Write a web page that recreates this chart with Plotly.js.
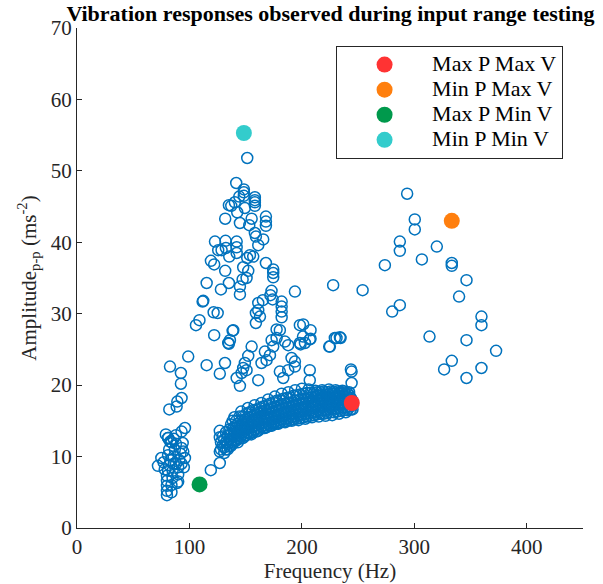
<!DOCTYPE html>
<html>
<head>
<meta charset="utf-8">
<script src="https://cdn.plot.ly/plotly-3.0.1.min.js"></script>
<style>html,body{margin:0;padding:0;background:#fff;}#chart{width:603px;height:584px;}</style>
</head>
<body>
<div id="chart"></div>
<script>
// Low-frequency cluster
const lowFreq = [80,80,80,80,80,81,82,83,81,82,84,81,83,79,84,84,85,85,86,86,87,88,90,90,90,91,92,93,94,94.5,89,75,72,77,78,88,93,95,96,86,88,96,93,81,83,127,127,127,127,119];
const lowAmp  = [4.6,5.2,5.9,6.6,7.3,8.0,8.8,9.5,10.2,11.0,12.0,12.6,12.1,13.1,5.0,6.0,7.0,8.0,9.0,10.0,11.0,11.8,6.5,7.5,8.5,9.5,10.4,11.2,11.9,10.7,6.3,9.8,8.7,9.2,8.2,9.0,9.0,8.5,9.8,12.5,13.0,14.0,13.5,12.6,12.1,13.6,12.7,10.7,9.1,8.1];

// Dense main band (first pass)
const bandFreq = [128,128,131,131,131,134,134,134,137,137,137,137,140,140,140,140,143,143,143,143,146,146,146,146,149,149,149,149,152,152,152,152,155,155,155,155,158,158,158,158,161,161,161,161,164,164,164,164,167,167,167,167,170,170,170,170,173,173,173,173,176,176,176,176,179,179,179,179,182,182,182,182,185,185,185,185,188,188,188,188,191,191,191,191,194,194,194,194,197,197,197,197,200,200,200,200,203,203,203,203,206,206,206,206,209,209,209,209,212,212,212,212,215,215,215,215,218,218,218,218,221,221,221,221,224,224,224,224,227,227,227,227,230,230,230,230,233,233,233,233,236,236,236,236,239,239,239,239,242,242,242,242,245,245,245];
const bandAmp  = [11.0,12.0,11.3,12.4,10.5,11.8,12.9,11.0,12.0,13.2,14.5,11.5,12.3,13.4,14.2,15.5,12.6,13.6,14.6,12.0,12.9,13.9,15.0,16.3,13.2,14.1,15.2,12.8,13.4,14.3,15.5,16.8,13.6,14.5,15.6,13.1,13.8,14.8,15.9,17.2,14.0,15.0,16.1,13.6,14.2,15.2,16.3,17.5,14.4,15.3,16.4,14.0,14.6,15.5,16.6,18.0,14.7,15.6,16.8,14.3,14.9,15.8,16.9,18.4,15.0,16.0,17.1,14.6,15.2,16.1,17.2,18.8,15.3,16.3,17.4,14.8,15.4,16.4,17.5,19.0,15.5,16.5,17.6,15.0,15.7,16.7,17.8,19.3,15.8,16.8,17.9,15.1,15.9,16.9,18.0,19.5,16.0,17.0,18.1,15.3,16.1,17.1,18.2,19.4,16.2,17.2,18.3,15.5,16.3,17.3,18.4,19.2,16.4,17.4,18.5,15.6,16.5,17.5,18.6,19.3,16.5,17.5,18.6,15.7,16.6,17.6,18.7,19.4,16.7,17.7,18.8,15.8,16.7,17.7,18.8,19.3,16.8,17.8,18.9,16.0,16.9,17.9,18.9,19.2,16.9,17.9,18.8,16.2,17.0,18.0,18.6,19.0,17.1,17.8,16.6];

// Dense main band (second pass, in between)
const band2Freq = [129.5,129.5,132.5,132.5,132.5,135.5,135.5,135.5,
  138.5,138.5,138.5,138.5,141.5,141.5,141.5,141.5,144.5,144.5,144.5,144.5,147.5,147.5,147.5,147.5,
  150.5,150.5,150.5,150.5,153.5,153.5,153.5,153.5,156.5,156.5,156.5,156.5,159.5,159.5,159.5,159.5,
  162.5,162.5,162.5,162.5,165.5,165.5,165.5,165.5,168.5,168.5,168.5,168.5,171.5,171.5,171.5,171.5,
  174.5,174.5,174.5,174.5,177.5,177.5,177.5,177.5,180.5,180.5,180.5,180.5,183.5,183.5,183.5,183.5,
  186.5,186.5,186.5,186.5,189.5,189.5,189.5,189.5,192.5,192.5,192.5,192.5,195.5,195.5,195.5,195.5,
  198.5,198.5,198.5,198.5,201.5,201.5,201.5,201.5,204.5,204.5,204.5,204.5,207.5,207.5,207.5,207.5,
  210.5,210.5,210.5,210.5,213.5,213.5,213.5,213.5,216.5,216.5,216.5,216.5,219.5,219.5,219.5,219.5,
  222.5,222.5,222.5,222.5,225.5,225.5,225.5,225.5,228.5,228.5,228.5,228.5,231.5,231.5,231.5,231.5,
  234.5,234.5,234.5,234.5,237.5,237.5,237.5,237.5,240.5,240.5,240.5,240.5,243.5,243.5,243.5];
const band2Amp = [11.5,12.8,11.0,12.0,13.4,11.4,12.4,13.8,
  11.8,12.8,13.9,15.0,12.2,13.0,14.0,15.0,12.5,13.3,14.3,15.6,12.6,13.5,14.5,15.6,
  13.0,13.8,14.8,16.0,13.2,14.0,15.0,16.2,13.4,14.2,15.2,16.5,13.5,14.4,15.4,16.6,
  13.8,14.6,15.6,16.8,14.0,14.8,15.8,17.0,14.1,15.0,16.0,17.2,14.3,15.1,16.1,17.4,
  14.5,15.3,16.3,17.6,14.6,15.5,16.5,17.8,14.8,15.6,16.6,17.9,14.9,15.8,16.8,18.1,
  15.0,15.9,16.9,18.2,15.1,16.0,17.0,18.3,15.2,16.1,17.1,18.5,15.3,16.2,17.3,18.6,
  15.4,16.4,17.4,18.7,15.5,16.5,17.5,18.8,15.6,16.6,17.6,18.9,15.7,16.7,17.7,18.9,
  15.8,16.8,17.8,18.9,15.9,16.9,17.9,19.0,16.0,17.0,18.0,19.0,16.0,17.0,18.1,19.1,
  16.1,17.1,18.1,19.0,16.2,17.2,18.2,19.1,16.2,17.2,18.3,19.0,16.3,17.3,18.3,19.1,
  16.4,17.4,18.4,19.0,16.5,17.4,18.4,19.1,16.5,17.5,18.3,18.9,16.6,17.5,18.2];

// Scatter between band and upper arm
const midFreq = [134.5,155.3,152.3,149.3,147.8,146.4,142,144.9,161.2,164.1,168.6,171.6,167.1,174.5,177.5,173.1,184.9,187.8,190.8,193.8,193.8,187.8,180.4,183.4,201,198.2,207,224.9,233.8,230.8,244.2,244.2,207,207,131.6,138.4,135.1,150.8,115.3,127,98.9,82.7,92.4,92.4,93,89.2,88.6,82.1];
const midAmp  = [25.9,25.4,24.1,23.1,22.4,21.7,21.0,19.9,20.7,23.1,23.5,24.2,24.7,25.4,26.6,26.3,26.1,25.6,23.8,23.3,22.6,22.1,21.9,21.0,26.8,25.9,26.4,25.4,26.7,26.6,21.9,20.3,20.7,22.1,23.1,27.6,25.8,22.1,22.8,21.6,24.0,22.6,21.7,20.2,18.2,17.7,17.0,16.6];

// Upper arm
const armFreq = [151.4,141.6,148.4,148.4,148.4,158.2,158.2,158.2,158.2,144.3,140.4,135.1,137.2,149.3,142.5,131.8,144.9,155.3,153.2,168,168,168,158.2,165.6,159.1,122.7,132.1,142,161.2,125.6,128.6,132.4,142,135.4,142,153.8,156.7,151.4,119.1,122,168,147.8,174.5,174.5,174.5,131.8,152.3,150.8,147.3,135.1,115.3,128,144.9,144.9,112.3,193.8,173,172,174,182,182,182,182,161.2,165.3,159.1,161.2,162.7,159.1,121.5,125.1,108.9,105.8,139,122,177.5,136,198.2,227.8,254,201.2,207.7,207.7,229.3,234.4,224.3,198.8,202.7,180.4,243.6,111.7];
const armAmp  = [51.8,48.3,47.4,47.0,46.5,46.3,45.9,45.6,45.1,46.4,45.6,45.2,45.1,44.8,44.2,43.3,42.7,43.3,42.4,43.6,42.9,42.3,41.3,40.4,40.8,40.1,40.2,40.1,39.6,38.9,38.9,39.2,39.3,38.0,38.5,38.2,38.0,37.8,37.4,36.9,37.1,36.5,36.2,35.7,35.1,36.0,36.0,35.0,34.8,34.3,34.3,33.4,33.8,32.7,31.8,33.1,33.2,32.6,32.0,31.7,31.0,30.3,29.5,31.5,31.9,30.1,30.5,29.6,28.7,30.2,30.1,29.1,28.4,27.7,27.0,27.8,26.3,28.4,34.0,33.3,28.5,27.7,26.5,26.6,26.6,25.4,25.7,25.9,27.7,22.2,31.7];

// High-frequency scatter
const highFreq = [293.6,300.4,300.4,287.1,287.1,320,306.7,273.8,333.3,333.3,346.4,339.8,287.1,280.3,359.7,359.7,313.5,346.4,372.7,333.3,326.5,359.7,346.4];
const highAmp  = [46.8,43.2,41.8,40.1,38.8,39.4,37.6,36.8,37.1,36.7,34.7,32.4,31.2,30.3,29.6,28.4,26.8,26.3,24.8,23.4,22.2,22.4,21.0];

// Highlighted operating points
const specialNames = ['Max P Max V','Min P Max V','Max P Min V','Min P Min V'];
const specialFreq  = [244.4, 333.3, 109, 148.4];
const specialAmp   = [17.5, 43.0, 6.1, 55.3];
const specialColors = ['#ff3333','#ff7f0e','#00994c','#33cccc'];

const blueFreq = [].concat(lowFreq, bandFreq, band2Freq, midFreq, armFreq, highFreq);
const blueAmp  = [].concat(lowAmp, bandAmp, band2Amp, midAmp, armAmp, highAmp);

const serif = 'Liberation Serif, Times New Roman, serif';
const traces = [{
  type: 'scatter', mode: 'markers', x: blueFreq, y: blueAmp, showlegend: false,
  marker: {symbol: 'circle-open', size: 11, color: '#0072BD', line: {width: 1.5, color: '#0072BD'}},
  hoverinfo: 'skip'
}];
for (let i = 0; i < specialNames.length; i++) {
  traces.push({
    type: 'scatter', mode: 'markers',
    name: '<span style="font-size:22px">' + specialNames[i] + '</span>',
    x: [specialFreq[i]], y: [specialAmp[i]],
    marker: {symbol: 'circle', size: 16, color: specialColors[i]}
  });
}
const axisCommon = {
  showline: true, linecolor: '#262626', linewidth: 1, mirror: false,
  ticks: 'inside', ticklen: 5, tickcolor: '#262626', showgrid: false, zeroline: false,
  tickfont: {family: serif, size: 21, color: '#262626'}
};
const layout = {
  width: 603, height: 584,
  margin: {l: 77, r: 20, t: 28, b: 56},
  paper_bgcolor: '#fff', plot_bgcolor: '#fff',
  title: {text: '<b>Vibration responses observed during input range testing</b>', font: {family: serif, size: 22, color: '#000'}, x: 0.548, xanchor: 'center', y: 0.977, yanchor: 'middle'},
  xaxis: Object.assign({}, axisCommon, {range: [0, 450], tickvals: [0,100,200,300,400], title: {text: 'Frequency (Hz)', font: {family: serif, size: 21, color: '#262626'}, standoff: 2}}),
  yaxis: Object.assign({}, axisCommon, {range: [0, 70], tickvals: [0,10,20,30,40,50,60,70], title: {text: 'Amplitude<sub>p-p</sub> (ms<sup>-2</sup>)', font: {family: serif, size: 21, color: '#262626'}, standoff: 8}}),
  legend: {x: 0.512, y: 0.964, xanchor: 'left', yanchor: 'top', bgcolor: '#fff', bordercolor: '#262626', borderwidth: 1, font: {family: serif, size: 17, color: '#000'}, itemwidth: 85, tracegroupgap: 0},
  showlegend: true
};
Plotly.newPlot('chart', traces, layout, {displayModeBar: false, staticPlot: true});
</script>
</body>
</html>
